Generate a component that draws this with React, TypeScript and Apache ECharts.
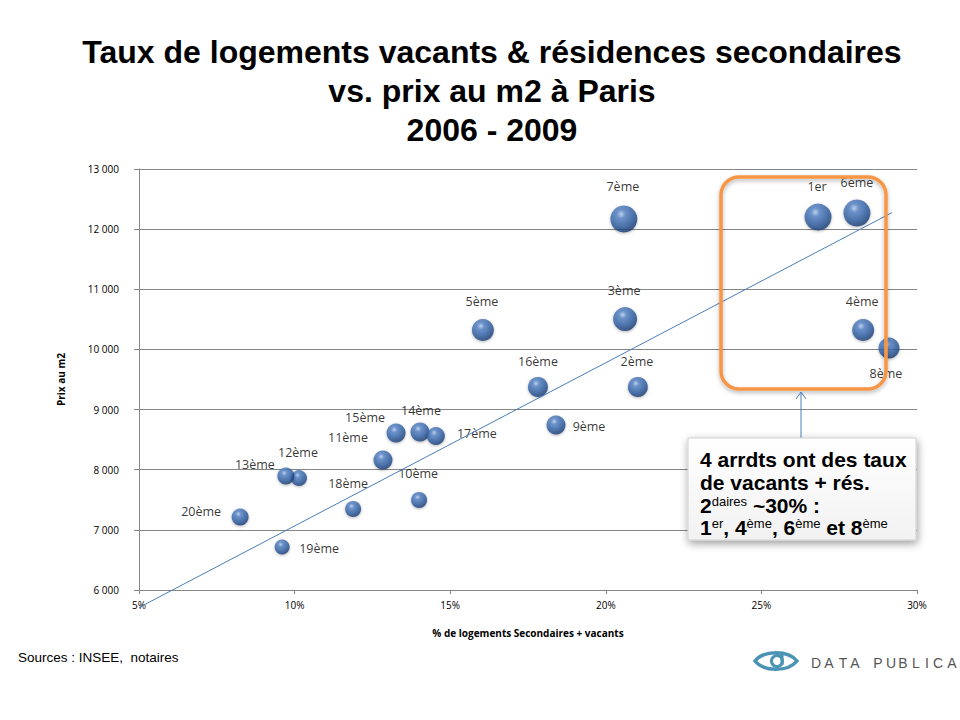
import React, { useEffect, useRef } from "react";
import * as echarts from "echarts";

// ---- Data ----
const arrondissements = [
  "1er", "2ème", "3ème", "4ème", "5ème", "6ème", "7ème", "8ème", "9ème", "10ème",
  "11ème", "12ème", "13ème", "14ème", "15ème", "16ème", "17ème", "18ème", "19ème", "20ème",
];
// % de logements secondaires + vacants
const tauxVacants = [
  26.82, 21.03, 20.62, 28.27, 16.05, 28.07, 20.58, 29.1, 18.4, 14.0,
  12.84, 10.14, 9.72, 14.03, 13.26, 17.82, 14.54, 11.88, 9.6, 8.25,
];
// Prix au m2 (€)
const prixM2 = [
  12200, 9375, 10505, 10323, 10323, 12268, 12169, 10023, 8745, 7496,
  8161, 7861, 7895, 8626, 8610, 9375, 8560, 7346, 6714, 7213,
];
// relative bubble weight
const bubbleWeight = [
  27, 20, 24, 22, 22, 27, 27, 21, 19, 16,
  19, 16, 17, 19, 19, 20, 18, 16, 15, 17,
];
// linear trend line end points [x %, prix]
const trendX = [5.0, 29.2];
const trendY = [5708, 12276];

const xTicks = { min: 5, max: 30, interval: 5 };
const yTicks = { min: 6000, max: 13000, interval: 1000 };

// label offsets (style, px)
const labelOffsets: Record<string, [number, number]> = {
  "1er": [-1, -31], "2ème": [-1, -26], "3ème": [-1, -29], "4ème": [-1, -29],
  "5ème": [-1, -29], "6ème": [0, -31], "7ème": [-1, -32], "8ème": [-3, 25],
  "9ème": [33, 2], "10ème": [-1, -27], "11ème": [-35, -23], "12ème": [-1, -26],
  "13ème": [-31, -12], "14ème": [1, -22], "15ème": [-31, -16], "16ème": [0, -26],
  "17ème": [41, -3], "18ème": [-5, -26], "19ème": [37, 1], "20ème": [-39, -6],
};

const fmtThousands = (v: number) => String(v).replace(/\B(?=(\d{3})+(?!\d))/g, " ");

const eyePath =
  "M -21 0 C -12 -11 12 -11 21 0 C 12 11 -12 11 -21 0 Z";

export default function App() {
  const ref = useRef<HTMLDivElement>(null);

  useEffect(() => {
    if (!ref.current) return;
    try {
      echarts.graphic.registerShape("eyelogo", echarts.graphic.extendPath(eyePath, {}) as any);
    } catch (e) {}
    const chart = echarts.init(ref.current, undefined, { renderer: "svg" });

    const bubbleFill = new echarts.graphic.RadialGradient(0.4, 0.32, 0.72, [
      { offset: 0, color: "#b4cdef" },
      { offset: 0.22, color: "#5683c6" },
      { offset: 0.65, color: "#2d5c9f" },
      { offset: 1, color: "#17366b" },
    ]);

    const scatterData = arrondissements.map((name, i) => ({
      name,
      value: [tauxVacants[i], prixM2[i], bubbleWeight[i]],
      label: { offset: labelOffsets[name] },
    }));

    const titleLines = [
      "Taux de logements vacants & résidences secondaires",
      "vs. prix au m2 à Paris",
      "2006 - 2009",
    ];

    const logoLetters: [string, number][] = [
      ["D", 816], ["A", 829], ["T", 843], ["A", 855],
      ["P", 878], ["U", 891], ["B", 903], ["L", 916], ["I", 927], ["C", 938], ["A", 952],
    ];

    const calloutLines = [
      "4 arrdts ont des taux",
      "de vacants + rés.",
      "2{sup|daires} ~30% :",
      "1{sup|er}, 4{sup|ème}, 6{sup|ème} et 8{sup|ème}",
    ];
    const calloutY = [459, 482, 505, 527];

    chart.setOption({
      animation: false,
      backgroundColor: "#ffffff",
      grid: { left: 139, right: 43, top: 169, bottom: 130, containLabel: false },
      xAxis: {
        type: "value",
        min: xTicks.min,
        max: xTicks.max,
        interval: xTicks.interval,
        name: "% de logements Secondaires + vacants",
        nameLocation: "middle",
        nameGap: 38,
        nameTextStyle: { fontFamily: "Open Sans", fontWeight: "bold", fontSize: 10, color: "#000" },
        axisLine: { show: true, lineStyle: { color: "#868686", width: 1 } },
        axisTick: { show: true, length: 4, lineStyle: { color: "#868686" } },
        axisLabel: {
          formatter: (v: number) => v + "%",
          fontFamily: "Open Sans",
          fontSize: 10,
          color: "#000",
          margin: 10,
        },
        splitLine: { show: false },
      },
      yAxis: {
        type: "value",
        min: yTicks.min,
        max: yTicks.max,
        interval: yTicks.interval,
        name: "Prix au m2",
        nameLocation: "middle",
        nameRotate: 90,
        nameGap: 73,
        nameTextStyle: { fontFamily: "Open Sans", fontWeight: "bold", fontSize: 10, color: "#000" },
        axisLine: { show: true, lineStyle: { color: "#868686", width: 1 } },
        axisTick: { show: true, length: 5, lineStyle: { color: "#868686" } },
        axisLabel: {
          formatter: (v: number) => fmtThousands(v),
          fontFamily: "Open Sans",
          fontSize: 10,
          color: "#000",
          margin: 20,
        },
        splitLine: { show: true, lineStyle: { color: "#868686", width: 1 } },
      },
      series: [
        {
          type: "scatter",
          data: scatterData,
          symbolSize: (v: number[]) => v[2],
          itemStyle: {
            color: bubbleFill,
            shadowBlur: 3,
            shadowColor: "rgba(0,0,0,0.35)",
            shadowOffsetY: 1,
          },
          label: {
            show: true,
            position: "inside",
            formatter: (p: any) => p.name,
            fontFamily: "Open Sans",
            fontSize: 12.5,
            color: "#000",
          },
          z: 2,
        },
        {
          type: "line",
          data: trendX.map((x, i) => [x, trendY[i]]),
          showSymbol: false,
          clip: false,
          lineStyle: { color: "#4a7ebb", width: 1 },
          z: 3,
          silent: true,
        },
      ],
      graphic: [
        ...titleLines.map((t, i) => ({
          type: "text",
          x: 492,
          y: 52 + i * 39,
          style: {
            text: t,
            fontFamily: "Liberation Sans, Arial",
            fontWeight: "bold",
            fontSize: 32,
            fill: "#000",
            textAlign: "center",
            textVerticalAlign: "middle",
          },
        })),
        {
          type: "rect",
          shape: { x: 721, y: 177, width: 165, height: 212, r: 18 },
          style: {
            fill: "none",
            stroke: "#F79646",
            lineWidth: 3.5,
            shadowBlur: 4,
            shadowColor: "rgba(0,0,0,0.3)",
            shadowOffsetY: 2,
          },
          z: 10,
        },
        {
          type: "line",
          shape: { x1: 801, y1: 438, x2: 801, y2: 392 },
          style: { stroke: "#4a7ebb", lineWidth: 1 },
          z: 10,
        },
        {
          type: "polyline",
          shape: { points: [[796, 399], [801, 392], [806, 399]] },
          style: { stroke: "#4a7ebb", lineWidth: 1, fill: "none" },
          z: 10,
        },
        {
          type: "rect",
          shape: { x: 688, y: 438, width: 228, height: 102 },
          style: {
            fill: new echarts.graphic.LinearGradient(0, 0, 0, 1, [
              { offset: 0, color: "#ffffff" },
              { offset: 1, color: "#f2f2f2" },
            ]),
            stroke: "#d0d0d0",
            lineWidth: 1,
            shadowBlur: 8,
            shadowColor: "rgba(0,0,0,0.4)",
            shadowOffsetX: 1,
            shadowOffsetY: 3,
          },
          z: 10,
        },
        ...calloutLines.map((t, i) => ({
          type: "text",
          x: 700,
          y: calloutY[i],
          z: 11,
          style: {
            text: t,
            fontFamily: "Liberation Sans, Arial",
            fontWeight: "bold",
            fontSize: 21,
            fill: "#000",
            textVerticalAlign: "middle",
            rich: {
              sup: {
                fontFamily: "Liberation Sans, Arial",
                fontSize: 13,
                fontWeight: "normal",
                fill: "#000",
                verticalAlign: "top",
                padding: [0, 0, 6, 0],
              },
            },
          },
        })),
        {
          type: "text",
          x: 18,
          y: 657,
          style: {
            text: "Sources : INSEE,  notaires",
            fontFamily: "Liberation Sans, Arial",
            fontSize: 13.5,
            fill: "#000",
            textVerticalAlign: "middle",
          },
        },
        {
          type: "eyelogo",
          x: 776,
          y: 661,
          style: { fill: "none", stroke: "#4a93b4", lineWidth: 3.5 },
        },
        {
          type: "circle",
          shape: { cx: 777, cy: 661, r: 5.5 },
          style: { fill: "none", stroke: "#4a93b4", lineWidth: 3 },
        },
        {
          type: "line",
          shape: { x1: 782, y1: 652, x2: 782, y2: 665 },
          style: { stroke: "#4a93b4", lineWidth: 3 },
        },
        ...logoLetters.map(([ch, x]) => ({
          type: "text",
          x,
          y: 663,
          style: {
            text: ch,
            fontFamily: "Liberation Sans, Arial",
            fontSize: 14,
            fill: "#555",
            textAlign: "center",
            textVerticalAlign: "middle",
          },
        })),
      ],
    });

    return () => chart.dispose();
  }, []);

  return (
    <div
      ref={ref}
      style={{ position: "absolute", left: 0, top: 0, width: 960, height: 720 }}
    />
  );
}
